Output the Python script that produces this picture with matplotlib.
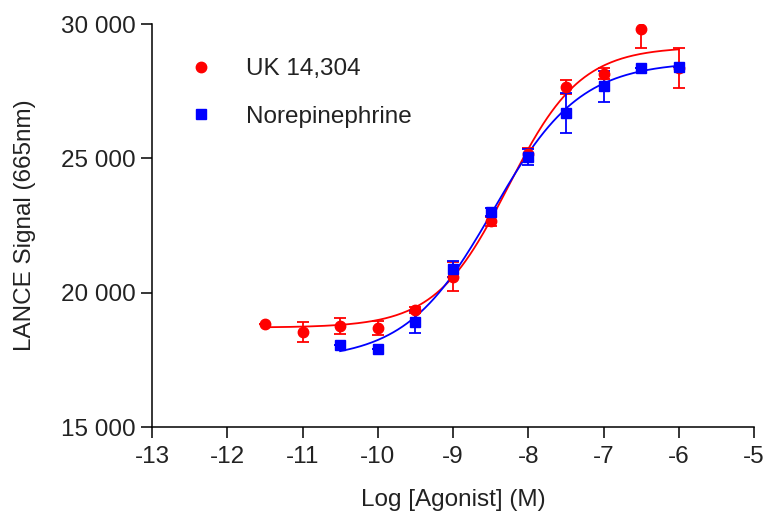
# Import benötigter Bibliotheken
#===============================
import numpy as np
import matplotlib
matplotlib.use("Agg")
import matplotlib.pyplot as plt
from matplotlib.ticker import FixedLocator

#====================================================================#
#                    DOSIS-WIRKUNGS-KURVEN (LANCE)                   #
#====================================================================#

# 1 - Messdaten (Mittelwert +/- Fehler)
#======================================

# UK 14,304
logUK = [-11.5, -11, -10.5, -10, -9.5, -9, -8.5, -8, -7.5, -7, -6.5, -6]
sigUK = [18850, 18540, 18750, 18690, 19350, 20600, 22650, 25150, 27650, 28150, 29800, 28350]
errUK = [0, 360, 290, 250, 100, 550, 150, 250, 250, 200, 700, 750]

# Norepinephrine
logNE = [-10.5, -10, -9.5, -9, -8.5, -8, -7.5, -7, -6.5, -6]
sigNE = [18040, 17910, 18900, 20870, 23000, 25050, 26700, 27680, 28380, 28400]
errNE = [0, 0, 400, 300, 150, 300, 750, 580, 0, 0]

# Fit-Parameter (Bottom, Top, LogEC50, Hill)
fitUK = (18700, 29150, -8.27, 0.9)
fitNE = (17500, 28600, -8.47, 0.75)

# Achsen
xTicks = [-13, -12, -11, -10, -9, -8, -7, -6, -5]
yTicks = [15000, 20000, 25000, 30000]
yLabels = ["15 000", "20 000", "25 000", "30 000"]

# 2 - Sigmoidale Fitfunktion
#===========================
def logistic(x, bottom, top, logEC50, hill):
    return bottom + (top - bottom) / (1 + 10**((logEC50 - x) * hill))

# 3 - Plot
#=========
plt.rcParams['font.family'] = ['Liberation Sans', 'DejaVu Sans']
fs = 17.5

fig = plt.figure(figsize=(7.65, 5.14), dpi=100)
ax = fig.add_axes([152/765, 87/514, 602/765, 403/514])

red = "#ff0000"
blue = "#0000ff"
lw = 1.3

# Kurven
xUK = np.linspace(min(logUK), max(logUK), 300)
xNE = np.linspace(min(logNE), max(logNE), 300)
ax.plot(xUK, logistic(xUK, *fitUK), color=red, lw=lw, zorder=2)
ax.plot(xNE, logistic(xNE, *fitNE), color=blue, lw=lw, zorder=3)

# Fehlerbalken
ax.errorbar(logUK, sigUK, yerr=errUK, fmt="none", ecolor=red, elinewidth=lw,
            capsize=4.2, capthick=lw, zorder=4)
ax.errorbar(logNE, sigNE, yerr=errNE, fmt="none", ecolor=blue, elinewidth=lw,
            capsize=4.2, capthick=lw, zorder=5)

# Messpunkte
ax.plot(logUK, sigUK, "o", color=red, ms=7.5, mec=red, label="UK 14,304", zorder=6)
ax.plot(logNE, sigNE, "s", color=blue, ms=7.2, mec=blue, label="Norepinephrine", zorder=7)

# Achsen formatieren
ax.set_xlim(-13, -5)
ax.set_ylim(15000, 30000)
ax.xaxis.set_major_locator(FixedLocator(xTicks))
ax.set_xticklabels([str(t) for t in xTicks])
ax.yaxis.set_major_locator(FixedLocator(yTicks))
ax.set_yticklabels(yLabels)
ax.tick_params(direction="out", length=8, width=1.1, labelsize=fs,
               colors="black", labelcolor="#222222")
ax.tick_params(axis="x", pad=6)
ax.tick_params(axis="y", pad=3.5)

for s in ["top", "right"]:
    ax.spines[s].set_visible(False)
for s in ["left", "bottom"]:
    ax.spines[s].set_linewidth(1.1)

ax.set_xlabel("Log [Agonist] (M)", fontsize=fs, labelpad=15, color="#222222")
ax.set_ylabel("LANCE Signal (665nm)", fontsize=fs, labelpad=18.5, color="#222222")

# Legende
ax.legend(loc="upper left", bbox_to_anchor=(0.0415, 0.915), frameon=False,
          fontsize=fs, handlelength=2.0, handletextpad=0.85, labelspacing=1.04,
          borderpad=0, borderaxespad=0, labelcolor="#222222")

plt.savefig("out.png", dpi=100)
